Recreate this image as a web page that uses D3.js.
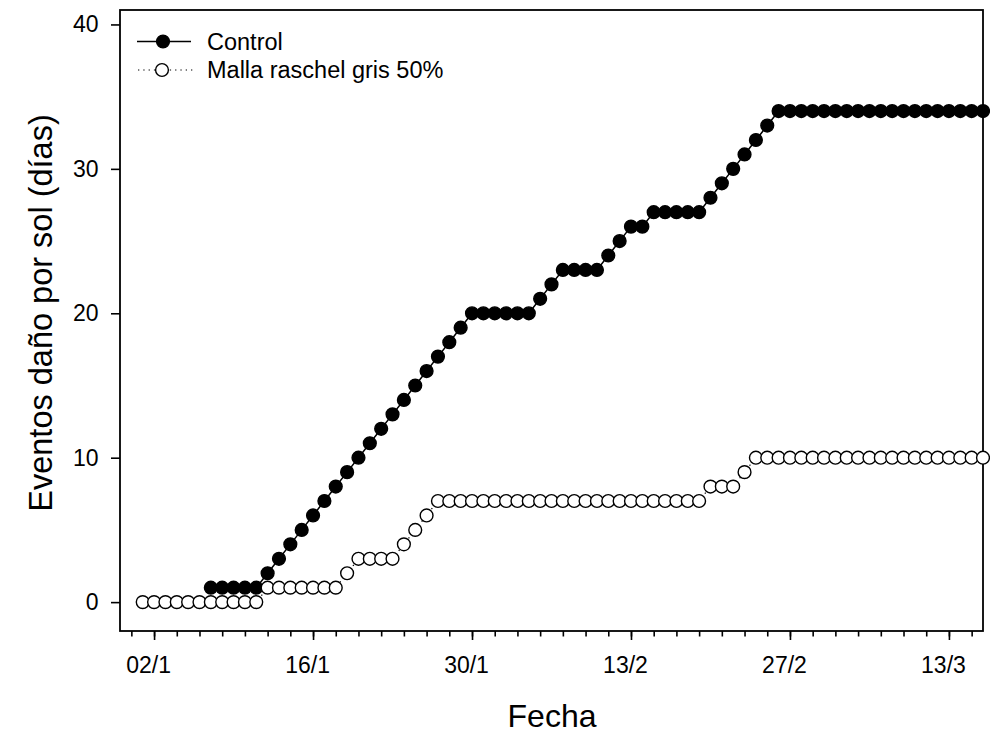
<!DOCTYPE html>
<html>
<head>
<meta charset="utf-8">
<script src="https://cdn.jsdelivr.net/npm/d3@7"></script>
<style>
  body { margin: 0; background: #fff; }
  svg text { font-family: Arial, "Liberation Sans", sans-serif; fill: #000; }
</style>
</head>
<body>
<div id="chart"></div>
<script>
// series: one value per day, starting at the given date
var controlStart = "2015-01-07";
var controlValues = [1, 1, 1, 1, 1,
    2, 3, 4, 5, 6, 7, 8, 9, 10, 11, 12, 13, 14, 15, 16, 17, 18, 19,
    20, 20, 20, 20, 20, 20,
    21, 22,
    23, 23, 23, 23,
    24, 25,
    26, 26,
    27, 27, 27, 27, 27,
    28, 29, 30, 31, 32, 33,
    34, 34, 34, 34, 34, 34, 34, 34, 34, 34, 34, 34, 34, 34, 34, 34, 34, 34, 34];

var mallaStart = "2015-01-01";
var mallaValues = [0, 0, 0, 0, 0, 0, 0, 0, 0, 0, 0,
    1, 1, 1, 1, 1, 1, 1,
    2,
    3, 3, 3, 3,
    4, 5, 6,
    7, 7, 7, 7, 7, 7, 7, 7, 7, 7, 7, 7, 7, 7, 7, 7, 7, 7, 7, 7, 7, 7, 7, 7,
    8, 8, 8,
    9,
    10, 10, 10, 10, 10, 10, 10, 10, 10, 10, 10, 10, 10, 10, 10, 10, 10, 10, 10, 10, 10];

var yTicks = [0, 10, 20, 30, 40];
var seriesNames = ["Control", "Malla raschel gris 50%"];

var parse = d3.utcParse("%Y-%m-%d");

function toPoints(start, values) {
    var s = parse(start);
    return values.map(function (v, i) {
        return { date: d3.utcDay.offset(s, i), value: v };
    });
}

var controlData = toPoints(controlStart, controlValues);
var mallaData = toPoints(mallaStart, mallaValues);

var width = 990, height = 735;
var plotLeft = 120, plotRight = 983, plotTop = 10, plotBottom = 631;

var svg = d3.select("#chart").append("svg")
    .attr("width", width)
    .attr("height", height);

var x = d3.scaleUtc()
    .domain([parse("2014-12-30"), parse("2015-03-16")])
    .range([plotLeft, plotRight]);

var y = d3.scaleLinear()
    .domain([-2, 41])
    .range([plotBottom, plotTop]);

// minor ticks every 2 days, major every 14 days
var minorTicks = d3.utcDay.range(parse("2014-12-31"), parse("2015-03-16"), 2);
var majorTicks = d3.utcDay.range(parse("2015-01-02"), parse("2015-03-16"), 14);

var xMinor = svg.append("g")
    .attr("transform", "translate(0," + plotBottom + ")")
    .call(d3.axisBottom(x).tickValues(minorTicks).tickSize(5.5).tickFormat(""));
xMinor.select(".domain").remove();

var xMajor = svg.append("g")
    .attr("transform", "translate(0," + plotBottom + ")")
    .call(d3.axisBottom(x).tickValues(majorTicks).tickSize(9).tickPadding(17)
        .tickFormat(d3.utcFormat("%d/%-m")));
xMajor.select(".domain").remove();
xMajor.selectAll("text").attr("x", -6).attr("font-size", "23px");

var yAxis = svg.append("g")
    .attr("transform", "translate(" + plotLeft + ",0)")
    .call(d3.axisLeft(y).tickValues(yTicks).tickSize(9).tickPadding(12.5));
yAxis.select(".domain").remove();
yAxis.selectAll("text").attr("font-size", "23px");

svg.selectAll(".tick line").attr("stroke", "#000").attr("stroke-width", 1.6);

// frame
svg.append("rect")
    .attr("x", plotLeft).attr("y", plotTop)
    .attr("width", plotRight - plotLeft).attr("height", plotBottom - plotTop)
    .attr("fill", "none")
    .attr("stroke", "#000")
    .attr("stroke-width", 1.8);

var line = d3.line()
    .x(function (d) { return x(d.date); })
    .y(function (d) { return y(d.value); });

var r = 6.4;

// Control: solid line, filled circles
svg.append("path")
    .datum(controlData)
    .attr("d", line)
    .attr("fill", "none")
    .attr("stroke", "#000")
    .attr("stroke-width", 1.5);

svg.selectAll(".ctrl")
    .data(controlData)
    .enter()
    .append("circle")
    .attr("class", "ctrl")
    .attr("cx", function (d) { return x(d.date); })
    .attr("cy", function (d) { return y(d.value); })
    .attr("r", r)
    .attr("fill", "#000")
    .attr("stroke", "#000")
    .attr("stroke-width", 1.4);

// Malla: dotted line, open circles
svg.append("path")
    .datum(mallaData)
    .attr("d", line)
    .attr("fill", "none")
    .attr("stroke", "#000")
    .attr("stroke-width", 1.2)
    .attr("stroke-dasharray", "1.3,4");

svg.selectAll(".malla")
    .data(mallaData)
    .enter()
    .append("circle")
    .attr("class", "malla")
    .attr("cx", function (d) { return x(d.date); })
    .attr("cy", function (d) { return y(d.value); })
    .attr("r", r)
    .attr("fill", "#fff")
    .attr("stroke", "#000")
    .attr("stroke-width", 1.4);

// legend
var legend = svg.append("g");

legend.append("line")
    .attr("x1", 137).attr("x2", 191).attr("y1", 41.5).attr("y2", 41.5)
    .attr("stroke", "#000").attr("stroke-width", 1.5);
legend.append("circle")
    .attr("cx", 163).attr("cy", 41.5).attr("r", r)
    .attr("fill", "#000").attr("stroke", "#000").attr("stroke-width", 1.4);
legend.append("text")
    .attr("x", 207).attr("y", 49.5)
    .attr("font-size", "23.5px")
    .text(seriesNames[0]);

legend.append("line")
    .attr("x1", 138).attr("x2", 193).attr("y1", 70).attr("y2", 70)
    .attr("stroke", "#000").attr("stroke-width", 1.2)
    .attr("stroke-dasharray", "1.3,4");
legend.append("circle")
    .attr("cx", 162).attr("cy", 70).attr("r", r)
    .attr("fill", "#fff").attr("stroke", "#000").attr("stroke-width", 1.4);
legend.append("text")
    .attr("x", 207).attr("y", 78)
    .attr("font-size", "23.5px")
    .text(seriesNames[1]);

// axis titles
svg.append("text")
    .attr("x", 552).attr("y", 727)
    .attr("text-anchor", "middle")
    .attr("font-size", "32px")
    .text("Fecha");

svg.append("text")
    .attr("transform", "translate(52,313) rotate(-90)")
    .attr("text-anchor", "middle")
    .attr("font-size", "32.5px")
    .text("Eventos daño por sol (días)");
</script>
</body>
</html>
